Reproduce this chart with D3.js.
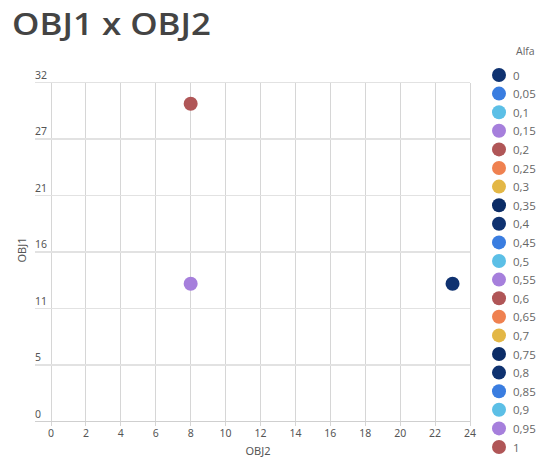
<!DOCTYPE html>
<html>
<head>
<meta charset="utf-8">
<script src="https://cdn.jsdelivr.net/npm/d3@7"></script>
<style>
  html, body { margin: 0; padding: 0; background: #fff; }
  svg { display: block; }
</style>
</head>
<body>
<svg id="chart" width="536" height="457"></svg>
<script>
// Alfa weights shown in the legend
const alphas = [0, 0.05, 0.1, 0.15, 0.2, 0.25, 0.3, 0.35, 0.4, 0.45, 0.5,
                0.55, 0.6, 0.65, 0.7, 0.75, 0.8, 0.85, 0.9, 0.95, 1];
// Resulting objective values for each alfa
const obj2Values = [23, 8, 8, 8, 8, 8, 8, 8, 8, 8, 8, 8, 8, 8, 8, 8, 8, 8, 8, 8, 8];
const obj1Values = [13, 13, 13, 13, 13, 13, 13, 13, 13, 13, 13, 13, 13, 13, 13, 13, 13, 13, 13, 13, 30];
// Axis ticks
const xTicks = [0, 2, 4, 6, 8, 10, 12, 14, 16, 18, 20, 22, 24];
const yTicks = [0, 32 / 6, 64 / 6, 16, 128 / 6, 160 / 6, 32];
// Series palette (cycles every 8 entries)
const palette = ["#0f3270", "#3a7de0", "#5cbfe6", "#a67fdc", "#b05657", "#ef8150", "#e3b745", "#0b2c66"];

const svg = d3.select("#chart");
const fmt = v => String(Math.round(v));
const alfaFmt = v => String(v).replace(".", ",");

const x = d3.scaleLinear().domain([0, 24]).range([51, 470]);
const y = d3.scaleLinear().domain([0, 32]).range([421.5, 82.5]);
const color = d3.scaleOrdinal().domain(alphas).range(palette);

// Title
svg.append("text")
  .attr("x", 12).attr("y", 35)
  .attr("font-family", "Open Sans, sans-serif")
  .attr("font-weight", 600)
  .attr("font-size", 31)
  .attr("fill", "#444")
  .attr("textLength", 199)
  .attr("lengthAdjust", "spacingAndGlyphs")
  .text("OBJ1 x OBJ2");

// Vertical grid
const grid = svg.append("g");
grid.selectAll("line.v").data(xTicks).join("line")
  .attr("class", "v")
  .attr("x1", d => x(d)).attr("x2", d => x(d))
  .attr("y1", y(32)).attr("y2", y(0) + 4)
  .attr("stroke", "#d6d6d6").attr("stroke-width", 1)
  .attr("shape-rendering", "crispEdges");
// Horizontal grid
grid.selectAll("line.h").data(yTicks).join("line")
  .attr("class", "h")
  .attr("x1", 35).attr("x2", x(24))
  .attr("y1", d => y(d)).attr("y2", d => y(d))
  .attr("stroke", d => d === 0 ? "#cfcfcf" : "#e2e2e2").attr("stroke-width", 1.5)
  .attr("shape-rendering", "crispEdges");

// Y tick labels sit above their grid lines
svg.append("g").selectAll("text").data(yTicks).join("text")
  .attr("x", 35).attr("y", d => y(d) - 4)
  .attr("font-family", "Noto Sans, sans-serif")
  .attr("font-size", 10.5).attr("fill", "#555")
  .text(fmt);

// X tick labels
svg.append("g").selectAll("text").data(xTicks).join("text")
  .attr("x", d => x(d)).attr("y", 437)
  .attr("text-anchor", "middle")
  .attr("font-family", "Noto Sans, sans-serif")
  .attr("font-size", 10.5).attr("fill", "#555")
  .text(d => d);

// Axis titles
svg.append("text")
  .attr("x", 258).attr("y", 455)
  .attr("text-anchor", "middle")
  .attr("font-family", "Noto Sans, sans-serif")
  .attr("font-size", 11).attr("fill", "#555")
  .text("OBJ2");
svg.append("text")
  .attr("transform", "translate(26,250) rotate(-90)")
  .attr("text-anchor", "middle")
  .attr("font-family", "Noto Sans, sans-serif")
  .attr("font-size", 11).attr("fill", "#555")
  .text("OBJ1");

// Points: where several alfas land on the same spot, only the last one is visible
const points = alphas.map((a, i) => ({ a, x: obj2Values[i], y: obj1Values[i] }));
const visible = Array.from(
  d3.rollup(points, v => v[v.length - 1], d => `${d.x}|${d.y}`).values()
);
svg.append("g").selectAll("circle").data(visible).join("circle")
  .attr("cx", d => x(d.x)).attr("cy", d => y(d.y))
  .attr("r", 7)
  .attr("fill", d => color(d.a));

// Legend
const legend = svg.append("g");
legend.append("text")
  .attr("x", 516).attr("y", 55)
  .attr("font-family", "Open Sans, sans-serif")
  .attr("font-size", 10.5).attr("fill", "#666")
  .text("Alfa");
const ly = d3.scalePoint().domain(alphas).range([75, 447]);
const items = legend.selectAll("g").data(alphas).join("g")
  .attr("transform", d => `translate(0,${ly(d)})`);
items.append("circle").attr("cx", 499).attr("cy", 0).attr("r", 7)
  .attr("fill", d => color(d));
items.append("text").attr("x", 513).attr("y", 4.5)
  .attr("font-family", "Open Sans, sans-serif")
  .attr("font-size", 11.5).attr("fill", "#666")
  .text(alfaFmt);
</script>
</body>
</html>
